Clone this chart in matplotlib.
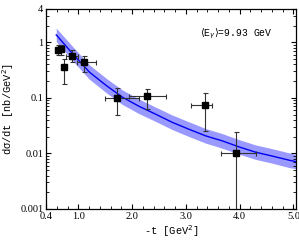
import matplotlib
matplotlib.use("Agg")
import matplotlib.pyplot as plt
from matplotlib.ticker import FixedLocator, MultipleLocator, LogLocator, NullFormatter, FixedFormatter

# ---- data ----
t_pts = [0.62, 0.68, 0.73, 0.887, 1.10, 1.72, 2.28, 3.36, 3.94]
ds_pts = [0.735, 0.756, 0.355, 0.574, 0.436, 0.101, 0.107, 0.0755, 0.0101]
ds_hi = [0.89, 0.89, 0.50, 0.726, 0.574, 0.152, 0.146, 0.122, 0.0245]
ds_lo = [0.59, 0.59, 0.18, 0.449, 0.289, 0.049, 0.064, 0.0253, 0.0001]
t_lo = [0.60, 0.64, 0.69, 0.776, 0.98, 1.49, 1.95, 3.10, 3.65]
t_hi = [0.64, 0.74, 0.77, 0.99, 1.32, 2.13, 2.64, 3.49, 4.31]

t_curve = [0.59, 0.90, 1.21, 1.52, 1.82, 2.13, 2.44, 2.75, 3.06, 3.37,
           3.68, 3.99, 4.30, 4.60, 4.91, 5.05]
ds_curve = [1.36, 0.615, 0.289, 0.167, 0.103, 0.0705, 0.0508, 0.0362, 0.0272,
            0.0207, 0.0168, 0.0131, 0.0105, 0.0090, 0.0076, 0.0071]
band_hi = [1.80, 0.83, 0.39, 0.225, 0.139, 0.095, 0.068, 0.049, 0.037, 0.028,
           0.0227, 0.0177, 0.0142, 0.0122, 0.0103, 0.0096]
band_lo = [1.03, 0.46, 0.215, 0.124, 0.076, 0.052, 0.0376, 0.0268, 0.0201,
           0.0153, 0.0124, 0.0097, 0.0078, 0.0067, 0.0056, 0.0053]

x_ticks = [0.4, 1.0, 2.0, 3.0, 4.0, 5.0]
x_ticklabels = ["0.4", "1.0", "2.0", "3.0", "4.0", "5.0"]
y_ticks = [0.001, 0.01, 0.1, 1, 4]
y_ticklabels = ["0.001", "0.01", "0.1", "1", "4"]

fig = plt.figure(figsize=(2.99, 2.47), dpi=100)
ax = fig.add_axes([0.154, 0.154, 0.836, 0.81])

ax.fill_between(t_curve, band_lo, band_hi, color="#9999ff", lw=0, zorder=1)
ax.plot(t_curve, ds_curve, color="#0000ee", lw=1.0, zorder=2)

yerr = [[d - l for d, l in zip(ds_pts, ds_lo)], [h - d for d, h in zip(ds_pts, ds_hi)]]
xerr = [[t - l for t, l in zip(t_pts, t_lo)], [h - t for t, h in zip(t_pts, t_hi)]]
ax.errorbar(t_pts, ds_pts, xerr=xerr, yerr=yerr, fmt="s", color="black",
            ecolor="#333333", elinewidth=0.8, capsize=1.8, capthick=0.8,
            markersize=3.8, zorder=3)

ax.set_yscale("log")
ax.set_xlim(0.4, 5.05)
ax.set_ylim(0.001, 4)

serif = "Liberation Serif"
ax.xaxis.set_major_locator(FixedLocator(x_ticks))
ax.xaxis.set_major_formatter(FixedFormatter(x_ticklabels))
ax.xaxis.set_minor_locator(MultipleLocator(0.2))
ax.yaxis.set_major_locator(FixedLocator(y_ticks))
ax.yaxis.set_major_formatter(FixedFormatter(y_ticklabels))
ax.yaxis.set_minor_locator(LogLocator(base=10, subs=range(2, 10)))
ax.yaxis.set_minor_formatter(NullFormatter())

ax.tick_params(which="both", direction="in", top=True, right=True,
               labelsize=7.5, pad=2)
ax.tick_params(which="major", length=3.5, width=0.8)
ax.tick_params(which="minor", length=2, width=0.6)
for lab in ax.get_xticklabels() + ax.get_yticklabels():
    lab.set_fontfamily(serif)
for s in ax.spines.values():
    s.set_linewidth(0.9)

mono = "Liberation Mono"
ax.set_xlabel("-t [GeV$^2$]", fontfamily=mono, fontsize=7.5, labelpad=2)
ax.set_ylabel("d\u03c3/dt [nb/GeV$^2$]", fontfamily=mono, fontsize=7.5, labelpad=3)

ax.text(3.93, 1.42, r"$\langle$E$_\gamma\rangle$=9.93 GeV", fontfamily=mono,
        fontsize=7, ha="center", va="center")

fig.savefig("out.png", dpi=100)
